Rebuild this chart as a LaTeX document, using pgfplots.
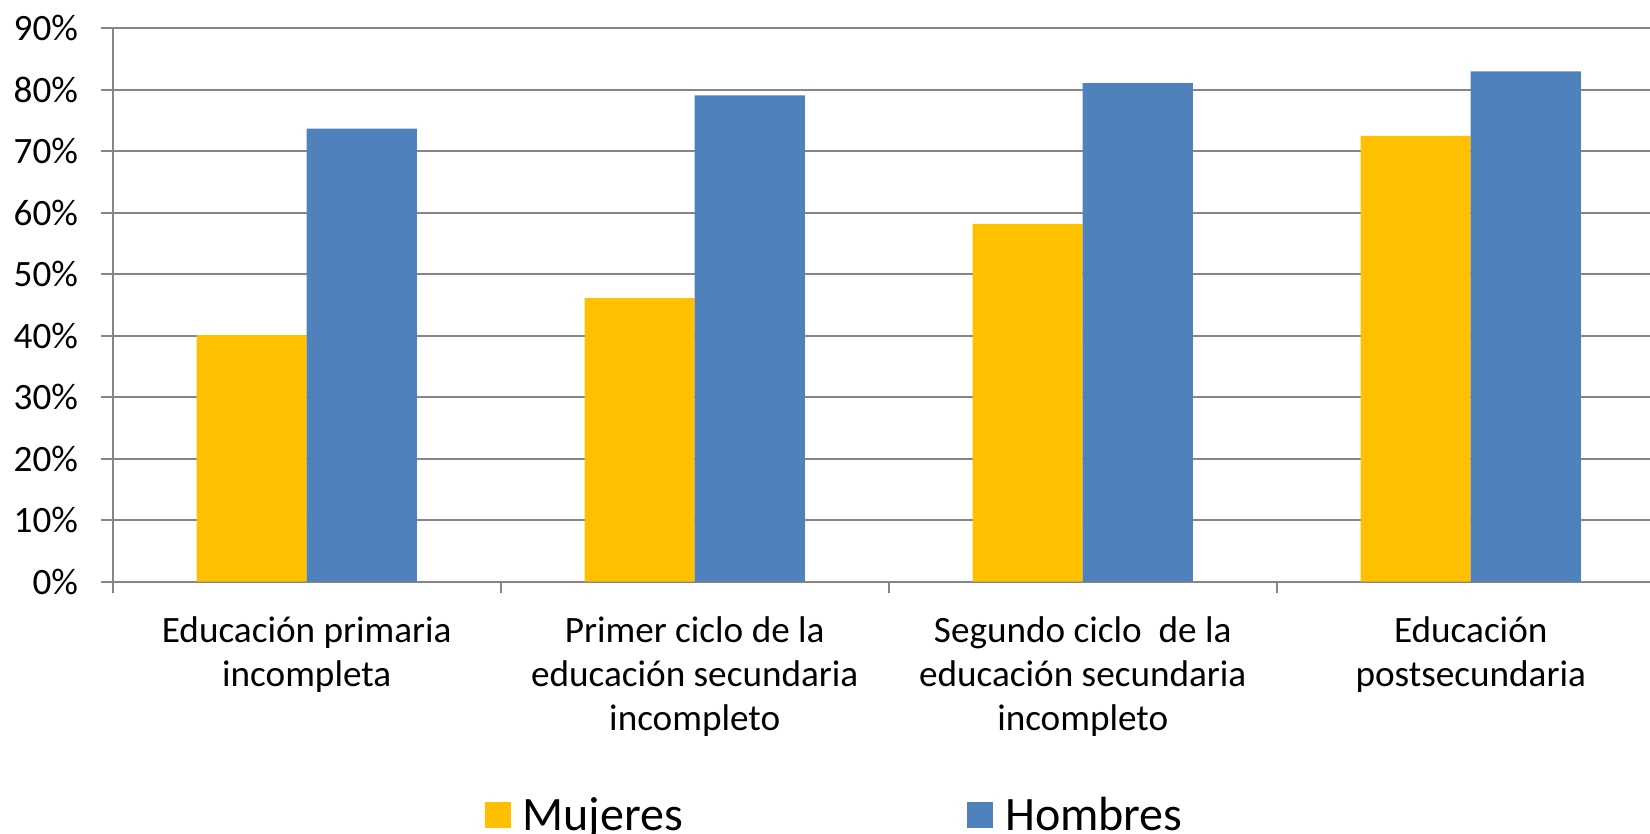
\documentclass[border=0pt]{standalone}
\usepackage{pgfplots}
\pgfplotsset{compat=1.18}
\usepackage{fontspec}
\setmainfont{Carlito}
\definecolor{muj}{HTML}{FFC000}
\definecolor{hom}{HTML}{4F81BD}
\definecolor{gridc}{HTML}{868686}
\begin{document}
\begin{tikzpicture}
\begin{axis}[
  at={(0pt,0pt)}, anchor=south west,
  scale only axis, width=768.65pt, height=276.7pt,
  xmin=-0.5, xmax=3.462, ymin=0, ymax=90,
  ybar=0pt, bar width=0.284,
  axis lines*=left,
  axis line style={gridc, line width=1pt},
  xtick={0,1,2,3},
  major x tick style={draw=none},
  minor xtick={-0.5,0.5,1.5,2.5},
  ytick={0,10,...,90},
  tick align=outside,
  major tick length=5.85pt, minor tick length=5.85pt,
  tick style={gridc, line width=1pt},
  ymajorgrids, grid style={gridc, line width=1pt},
  /pgf/number format/assume math mode=true,
  yticklabel={\pgfmathprintnumber{\tick}\%},
  yticklabel style={font=\fontsize{18.6}{22.2}\selectfont, anchor=east, inner sep=0pt, xshift=-11.3pt},
  xticklabels={{\rule{0pt}{0.8em}Educación primaria\\incompleta},
               {\rule{0pt}{0.8em}Primer ciclo de la\\educación secundaria\\incompleto},
               {\rule{0pt}{0.8em}Segundo ciclo~ de la\\educación secundaria\\incompleto},
               {\rule{0pt}{0.8em}Educación\\postsecundaria}},
  xticklabel style={font=\fontsize{18.6}{22.2}\selectfont, align=center, anchor=north, inner sep=0pt, yshift=-9.27pt},
  legend columns=2,
  legend style={at={(0.469,-0.4216)}, anchor=center, draw=none, fill=none, inner sep=0pt,
    font=\fontsize{24}{28.8}\selectfont, nodes={inner sep=0pt},
    /tikz/every odd column/.append style={column sep=6pt},
    /tikz/every even column/.append style={column sep=142pt}},
  legend image code/.code={\fill[#1] (0pt,-6.5pt) rectangle (13pt,6.5pt);},
]
\addplot[fill=muj, draw=none] coordinates {(0,40.1) (1,46.1) (2,58.2) (3,72.5)};
\addplot[fill=hom, draw=none] coordinates {(0,73.7) (1,79.1) (2,81.1) (3,83.0)};
\legend{Mujeres, Hombres}
\end{axis}
\pgfresetboundingbox
\path[use as bounding box] (-56.35pt,-126.15pt) rectangle (768.65pt,290.85pt);
\end{tikzpicture}
\end{document}
